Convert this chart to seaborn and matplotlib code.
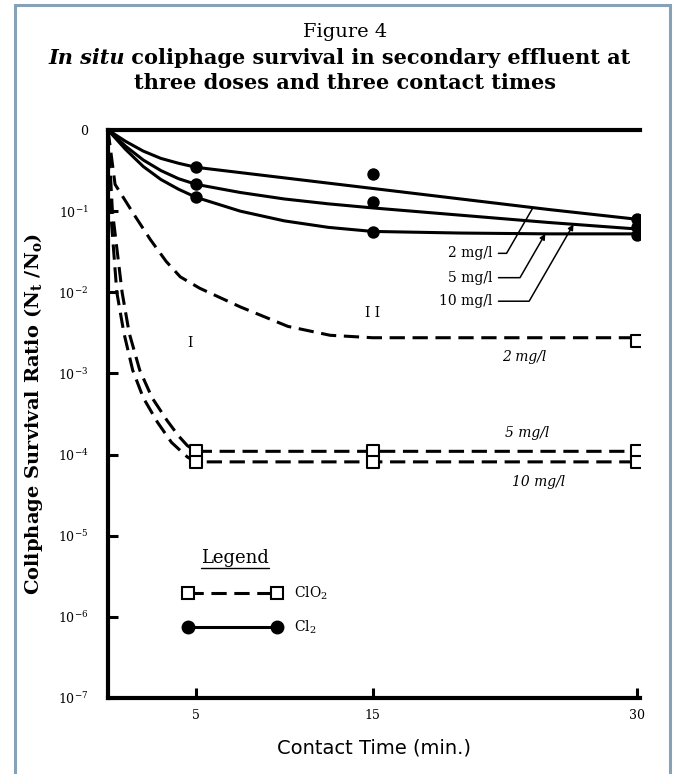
import numpy as np
import seaborn as sns
import matplotlib.pyplot as plt
from matplotlib.lines import Line2D
from matplotlib.patches import Rectangle
from matplotlib.ticker import NullLocator
from matplotlib.transforms import IdentityTransform

# survival ratios as log10(Nt/No)
cl2_t = [0, 1, 2, 3, 4, 5, 7.5, 10, 12.5, 15, 20, 25, 30]
cl2_2mg = [0, -0.14, -0.26, -0.35, -0.41, -0.46, -0.525, -0.59, -0.655, -0.72, -0.85, -0.98, -1.10]
cl2_5mg = [0, -0.24, -0.45, -0.61, -0.73, -0.83, -1.00, -1.12, -1.20, -1.25, -1.27, -1.28, -1.28]
cl2_10mg = [0, -0.20, -0.37, -0.50, -0.60, -0.67, -0.77, -0.85, -0.91, -0.96, -1.05, -1.14, -1.22]

mark_t = [5, 15, 30]
cl2_2mg_pts = [-0.46, -0.54, -1.10]
cl2_5mg_pts = [-0.83, -1.26, -1.30]
cl2_10mg_pts = [-0.67, -0.89, -1.20]

clo2_2mg_t = [0, 0.4, 1.5, 2.4, 3.3, 4.1, 5.2, 7.5, 10.2, 12.6, 15, 20, 25, 30]
clo2_2mg = [0, -0.67, -1.05, -1.35, -1.62, -1.81, -1.95, -2.18, -2.42, -2.53, -2.56, -2.56, -2.56, -2.56]
clo2_5mg_t = [0, 0.25, 0.8, 1.2, 1.8, 2.5, 3.35, 4.0, 4.5, 5, 15, 30]
clo2_5mg = [0, -1.0, -2.0, -2.5, -2.96, -3.3, -3.58, -3.77, -3.89, -3.96, -3.96, -3.96]
clo2_10mg_t = [0, 0.15, 0.5, 0.9, 1.4, 2.0, 2.8, 3.6, 4.5, 5, 15, 30]
clo2_10mg = [0, -1.0, -2.0, -2.5, -2.96, -3.3, -3.6, -3.85, -4.03, -4.09, -4.09, -4.09]

clo2_5mg_pts = [-3.96, -3.96, -3.96]
clo2_10mg_pts = [-4.09, -4.09, -4.09]
clo2_2mg_end_t = [30]
clo2_2mg_end = [-2.6]

ytick_exp = [0, -1, -2, -3, -4, -5, -6, -7]
ytick_labels = ['0'] + [r'10$^{\mathrm{%d}}$' % k for k in ytick_exp[1:]]
xticks = [5, 15, 30]

sns.set_style("ticks")
plt.rcParams['font.family'] = ['DejaVu Serif', 'Liberation Serif']
plt.rcParams['mathtext.fontset'] = 'custom'
plt.rcParams['mathtext.rm'] = 'DejaVu Serif'
plt.rcParams['mathtext.it'] = 'DejaVu Serif:italic'
plt.rcParams['mathtext.bf'] = 'DejaVu Serif:bold'
for k in ['text.color', 'axes.labelcolor', 'xtick.color', 'ytick.color']:
    plt.rcParams[k] = 'black'

W, H = 677, 774
fig = plt.figure(figsize=(W / 100, H / 100), dpi=100)
ax = fig.add_axes([108 / W, 1 - 698 / H, (640 - 108) / W, (698 - 130) / H])

dash = (0, (5, 2.5))


def pw(v):
    return 10.0 ** np.array(v)


# Cl2 curves (solid)
for v in [cl2_2mg, cl2_5mg, cl2_10mg]:
    sns.lineplot(x=cl2_t, y=pw(v), ax=ax, color='black', lw=2.2,
                 sort=False, estimator=None)
# ClO2 curves (dashed)
for t, v in [(clo2_2mg_t, clo2_2mg), (clo2_5mg_t, clo2_5mg), (clo2_10mg_t, clo2_10mg)]:
    sns.lineplot(x=t, y=pw(v), ax=ax, color='black', lw=2.2, linestyle=dash,
                 sort=False, estimator=None)

for v in [cl2_2mg_pts, cl2_5mg_pts, cl2_10mg_pts]:
    sns.scatterplot(x=mark_t, y=pw(v), ax=ax, color='black', s=80,
                    linewidth=0, zorder=5)
for t, v in [(mark_t, clo2_5mg_pts), (mark_t, clo2_10mg_pts), (clo2_2mg_end_t, clo2_2mg_end)]:
    sns.scatterplot(x=t, y=pw(v), ax=ax, marker='s', color='white', edgecolor='black',
                    s=80, linewidth=1.5, zorder=5)

ax.set_yscale('log')
ax.set_ylim(1e-7, 1)
ax.set_xlim(0, 30.17)
ax.set_yticks(pw(ytick_exp))
ax.set_yticklabels(ytick_labels)
ax.yaxis.set_minor_locator(NullLocator())
ax.set_xticks(xticks)
ax.set_xticklabels([str(x) for x in xticks])
ax.tick_params(direction='in', length=7, width=2.2, labelsize=9, colors='black')
ax.tick_params(axis='y', pad=14)
ax.tick_params(axis='x', pad=8)
ax.spines['right'].set_visible(False)
for s in ['left', 'bottom', 'top']:
    ax.spines[s].set_linewidth(3)
    ax.spines[s].set_color('black')

ax.set_xlabel("Contact Time (min.)", fontsize=14, family=['DejaVu Sans'], labelpad=12)
ax.set_ylabel(r"Coliphage Survival Ratio (N$_\mathbf{t}$ /N$_\mathbf{o}$)",
              fontsize=14, fontweight='bold')
ax.yaxis.set_label_coords(-0.118, 0.5)

# Cl2 dose labels with leaders
for lab, tx, ty, px, curve, head in [("2 mg/l", 21.8, -1.52, 24.1, cl2_2mg, '-'),
                                     ("5 mg/l", 21.8, -1.82, 24.8, cl2_5mg, '-|>'),
                                     ("10 mg/l", 21.8, -2.11, 26.4, cl2_10mg, '-|>')]:
    ax.annotate(lab, xy=(px, 10 ** np.interp(px, cl2_t, curve)), xytext=(tx, 10 ** ty),
                ha='right', va='center', fontsize=10,
                arrowprops=dict(arrowstyle=head, lw=1.1, color='black', relpos=(1, 0.5),
                                connectionstyle="angle,angleA=0,angleB=60,rad=0",
                                shrinkA=2, shrinkB=0, mutation_scale=8))

# ClO2 dose labels
for lab, tx, ty in [("2 mg/l", 23.6, -2.8), ("5 mg/l", 23.8, -3.74), ("10 mg/l", 24.4, -4.34)]:
    ax.text(tx, 10 ** ty, lab, ha='center', va='center', fontsize=10, style='italic')
ax.text(4.65, 10 ** -2.63, "I", ha='center', va='center', fontsize=10)
ax.text(15, 10 ** -2.25, "I I", ha='center', va='center', fontsize=10)

h1 = Line2D([], [], color='black', lw=2.2, linestyle=dash, marker='s', markersize=9,
            markerfacecolor='white', markeredgecolor='black', markeredgewidth=1.5)
h2 = Line2D([], [], color='black', lw=2.2, marker='o', markersize=9)
leg = ax.legend([h1, h2], [r'ClO$_\mathrm{2}$', r'Cl$_\mathrm{2}$'], numpoints=2,
                frameon=False, handlelength=7.0, fontsize=10, labelspacing=1.15,
                loc='upper left', bbox_to_anchor=(0.13, 0.211), borderpad=0,
                handletextpad=0.9)
leg_title = ax.text(0.239, 0.246, "Legend", transform=ax.transAxes, ha='center',
                    va='center', fontsize=13)

# title block
fig.text(0.51, 1 - 32 / H, "Figure 4", ha='center', va='center', fontsize=14)
t1 = fig.text(48 / W, 1 - 58 / H, "In situ", ha='left', va='center', fontsize=15,
              fontweight='bold', style='italic')
ax.annotate(" coliphage survival in secondary effluent at", xy=(1, 0), xycoords=t1,
            ha='left', va='bottom', fontsize=15, fontweight='bold', annotation_clip=False)
fig.text(0.51, 1 - 83 / H, "three doses and three contact times", ha='center', va='center',
         fontsize=15, fontweight='bold')

# blue page frame
fig.patches.append(Rectangle((15 / W, -0.02), (670 - 15) / W, 1.02 - 5 / H,
                             transform=fig.transFigure, fill=False,
                             edgecolor='#86a2b8', lw=2.2))

fig.canvas.draw()
bb = leg_title.get_window_extent()
fig.add_artist(Line2D([bb.x0, bb.x1], [bb.y0 - 1, bb.y0 - 1], color='black', lw=1,
                      transform=IdentityTransform()))

fig.savefig('out.png', dpi=100)
